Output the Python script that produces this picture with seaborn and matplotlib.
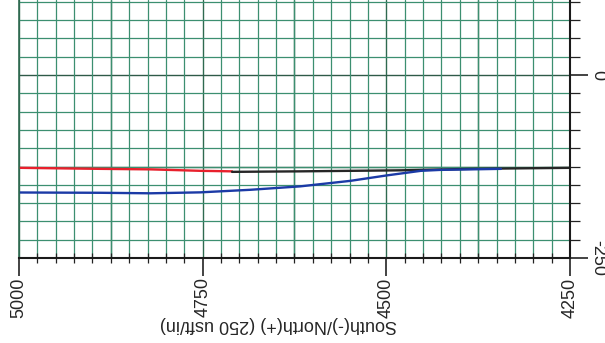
import numpy as np
import pandas as pd
import seaborn as sns
import matplotlib
matplotlib.use("Agg")
import matplotlib.pyplot as plt
from matplotlib.ticker import MultipleLocator

red_x = [5000, 4889, 4821, 4753, 4710]
red_y = [-126.8, -128.2, -128.9, -130.9, -131.6]

black_x = [4710, 4617, 4480, 4385, 4249]
black_y = [-132.3, -131.6, -130.2, -128.2, -126.8]

blue_x = [5000, 4889, 4821, 4753, 4685, 4617, 4549, 4499, 4453, 4426, 4385, 4344]
blue_y = [-160.5, -160.9, -161.6, -160.3, -156.8, -152.1, -144.6, -137.1, -130.9, -129.6, -128.9, -128.2]

x_ticks = [5000, 4750, 4500, 4250]
y_ticks = [0, -250]
axis_label = "South(-)/North(+) (250 usft/in)"

sns.set_theme(style="white")
plt.rcParams["font.family"] = ["Liberation Sans", "DejaVu Sans"]

df = pd.concat([
    pd.DataFrame({"x": red_x, "y": red_y, "s": "red"}),
    pd.DataFrame({"x": black_x, "y": black_y, "s": "black"}),
    pd.DataFrame({"x": blue_x, "y": blue_y, "s": "blue"}),
])

fig = plt.figure(figsize=(6.05, 3.43), dpi=100)
ax = fig.add_axes([19/605, 85/343, 551/605, 258/343])

ax.set_xlim(5000, 4250)
ax.set_ylim(-250, 102.5)

# grid: fine green every 25, a bit darker every 125
ax.xaxis.set_minor_locator(MultipleLocator(25))
ax.yaxis.set_minor_locator(MultipleLocator(25))
ax.grid(which="minor", color="#3c8f70", lw=0.9)
ax.grid(which="major", visible=False)
for v in np.arange(4250, 5001, 125):
    ax.axvline(v, color="#2f6a50", lw=1.0, zorder=0.5)
for v in np.arange(-250, 101, 125):
    ax.axhline(v, color="#2f5a48", lw=1.0, zorder=0.5)
ax.set_axisbelow(True)

sns.lineplot(data=df, x="x", y="y", hue="s", units="s", estimator=None, sort=False,
             palette={"red": "#e8202c", "black": "#262626", "blue": "#1b3aa6"},
             linewidth=1.7, legend=False, ax=ax)

ax.set_xticks(x_ticks)
ax.set_xticklabels([str(v) for v in x_ticks], rotation=90, fontsize=13)
ax.yaxis.tick_right()
ax.set_yticks(y_ticks)
ax.set_yticklabels([str(v) for v in y_ticks], rotation=270, fontsize=13, va="center")
ax.set_xlabel("")
ax.set_ylabel("")

ax.tick_params(axis="x", which="major", direction="out", length=13, width=1.2, color="#222", pad=1, bottom=True)
ax.tick_params(axis="x", which="minor", direction="inout", length=7, width=0.9, color="#222", bottom=True)
ax.tick_params(axis="y", which="major", direction="out", length=13, width=1.2, color="#222", pad=1, right=True)
ax.tick_params(axis="y", which="minor", direction="out", length=7, width=0.9, color="#222", right=True)

for side in ["bottom", "right"]:
    ax.spines[side].set_color("#1a1a1a")
    ax.spines[side].set_linewidth(1.5)
ax.spines["left"].set_color("#2f6a50")
ax.spines["left"].set_linewidth(1.2)
ax.spines["top"].set_visible(False)

fig.text(278/605, 1 - 325/343, axis_label, rotation=180, ha="center", va="center", fontsize=13)

fig.savefig("out.png", dpi=100, facecolor="white")
